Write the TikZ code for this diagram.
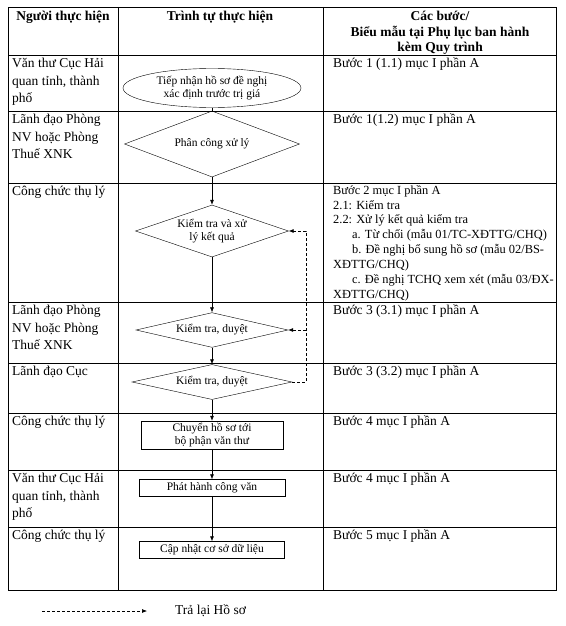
\documentclass[tikz,border=0pt]{standalone}
\usepackage{fontspec}
\setmainfont{Liberation Serif}
\usetikzlibrary{shapes.geometric, arrows.meta, positioning}

\begin{document}
\begin{tikzpicture}[x=1pt, y=-1pt,
    every node/.style={inner sep=0pt},
    head/.style={anchor=north, align=center, font=\bfseries\fontsize{13.5}{15.5}\selectfont},
    who/.style={anchor=north west, align=left, font=\fontsize{13.5}{17.5}\selectfont},
    ref/.style={anchor=north west, align=left, font=\fontsize{13.5}{15.2}\selectfont},
    refsmall/.style={ref, font=\fontsize{12.4}{14.9}\selectfont},
    flow/.style={draw, thin, align=center, font=\fontsize{11.5}{13}\selectfont},
    oval/.style={flow, ellipse},
    choice/.style={flow, diamond, aspect=3},
    stepbox/.style={flow, rectangle},
    link/.style={-{Latex[length=5pt,width=4pt]}, semithick},
    back/.style={link, densely dashed}]
    \useasboundingbox (0,0) rectangle (565,626);
    % table
    \draw[line width=0.8pt] (8,7) rectangle (556,590);
    \foreach \y in {55,111,183,302,363,413,470,527}
        \draw[line width=0.8pt] (8,\y) -- (556,\y);
    \foreach \x in {118,323}
        \draw[line width=0.8pt] (\x,7) -- (\x,590);
    % header
    \node[head] (hwho) at (63,11) {Người thực hiện};
    \node[head] (hflow) at (220,11) {Trình tự thực hiện};
    \node[head] (href) at (440,11) {Các bước/\\Biểu mẫu tại Phụ lục ban hành\\kèm Quy trình};
    % actors
    \node[who] (w1) at (12,58) {Văn thư Cục Hải\\quan tỉnh, thành\\phố};
    \node[who] (w2) at (12,114) {Lãnh đạo Phòng\\NV hoặc Phòng\\Thuế XNK};
    \node[who] (w3) at (12,186) {Công chức thụ lý};
    \node[who] (w4) at (12,305) {Lãnh đạo Phòng\\NV hoặc Phòng\\Thuế XNK};
    \node[who] (w5) at (12,366) {Lãnh đạo Cục};
    \node[who] (w6) at (12,416) {Công chức thụ lý};
    \node[who] (w7) at (12,473) {Văn thư Cục Hải\\quan tỉnh, thành\\phố};
    \node[who] (w8) at (12,530) {Công chức thụ lý};
    % steps and forms
    \node[ref] (r1) at (333,58) {Bước 1 (1.1) mục I phần A};
    \node[ref] (r2) at (333,114) {Bước 1(1.2) mục I phần A};
    \node[refsmall] (r3) at (333,185) {Bước 2 mục I phần A\\
        2.1: Kiểm tra\\
        2.2: Xử lý kết quả kiểm tra\\
        \hspace*{19pt}a. Từ chối (mẫu 01/TC-XĐTTG/CHQ)\\
        \hspace*{19pt}b. Đề nghị bổ sung hồ sơ (mẫu 02/BS-\\
        XĐTTG/CHQ)\\
        \hspace*{19pt}c. Đề nghị TCHQ xem xét (mẫu 03/ĐX-\\
        XĐTTG/CHQ)};
    \node[ref] (r4) at (333,305) {Bước 3 (3.1) mục I phần A};
    \node[ref] (r5) at (333,366) {Bước 3 (3.2) mục I phần A};
    \node[ref] (r6) at (333,416) {Bước 4 mục I phần A};
    \node[ref] (r7) at (333,473) {Bước 4 mục I phần A};
    \node[ref] (r8) at (333,530) {Bước 5 mục I phần A};
    % flow
    \node[oval, minimum width=178pt, minimum height=39pt] (recv) at (212,88)
        {Tiếp nhận hồ sơ đề nghị\\xác định trước trị giá};
    \node[choice, minimum width=175pt, minimum height=66pt] (assign) at (212,144) {Phân công xử lý};
    \node[choice, minimum width=153pt, minimum height=52pt] (check) at (212,231) {Kiểm tra và xử\\lý kết quả};
    \node[choice, minimum width=152pt, minimum height=31pt] (okroom) at (212,330) {Kiểm tra, duyệt};
    \node[choice, minimum width=160pt, minimum height=35pt] (okdept) at (212,382) {Kiểm tra, duyệt};
    \node[stepbox, minimum width=142pt, minimum height=28pt] (send) at (212,435) {Chuyển hồ sơ tới\\bộ phận văn thư};
    \node[stepbox, minimum width=146pt, minimum height=17pt] (issue) at (212,488) {Phát hành công văn};
    \node[stepbox, minimum width=145pt, minimum height=17pt] (update) at (212,550) {Cập nhật cơ sở dữ liệu};
    \draw[semithick] (recv) -- (assign);
    \draw[link] (assign) -- (check);
    \draw[link] (check) -- (okroom);
    \draw[link] (okroom) -- (okdept);
    \draw[link] (okdept) -- (send);
    \draw[link] (send) -- (issue);
    \draw[link] (issue) -- (update);
    \draw[back] (okdept.east) -- ++(14,0) coordinate (turn) |- (check.east);
    \draw[back] (turn |- okroom.east) -- (okroom.east);
    % legend
    \coordinate (key) at (42,611);
    \draw[back] (key) -- ++(105,0) coordinate (keyend);
    \node[anchor=west, font=\fontsize{13.5}{15}\selectfont] (keytext) at ([xshift=28pt]keyend) {Trả lại Hồ sơ};
\end{tikzpicture}
\end{document}
